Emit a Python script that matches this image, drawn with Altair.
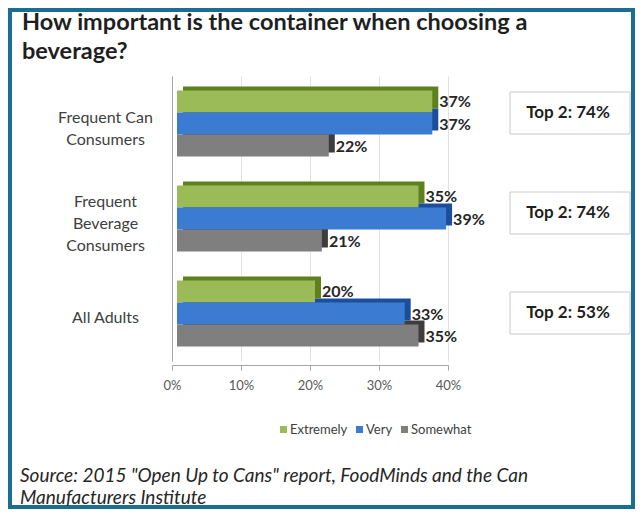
import altair as alt
import pandas as pd

# ---------------- data ----------------
categories = ["Frequent Can Consumers", "Frequent Beverage Consumers", "All Adults"]
category_lines = [["Frequent Can", "Consumers"], ["Frequent", "Beverage", "Consumers"], ["All Adults"]]
series = ["Extremely", "Very", "Somewhat"]
extremely = [37, 35, 20]
very = [37, 39, 33]
somewhat = [22, 21, 35]
top2_labels = ["Top 2: 74%", "Top 2: 74%", "Top 2: 53%"]
x_ticks = [0, 10, 20, 30, 40]
title_lines = ["How important is the container when choosing a", "beverage?"]
source_lines = ['Source: 2015 "Open Up to Cans" report, FoodMinds and the Can',
                "Manufacturers Institute"]

front_colors = ["#9bbb59", "#3c7bd2", "#7f7f7f"]
side_colors = ["#5f801e", "#1c4e9c", "#3d3d3d"]
FONT = "Lato"

rows = []
for i, c in enumerate(categories):
    for s, vals in zip(series, [extremely, very, somewhat]):
        rows.append({"category": c, "series": s, "value": vals[i], "label": f"{vals[i]}%"})
df = pd.DataFrame(rows)
top_df = pd.DataFrame({"category": categories, "top2": top2_labels})
one = pd.DataFrame({"k": [0]})

# label expression for multi-line category labels
def js_list(lst):
    return "[" + ",".join("'" + s + "'" for s in lst) + "]"

expr = js_list(category_lines[-1])
for c, lines in reversed(list(zip(categories[:-1], category_lines[:-1]))):
    expr = f"datum.value == '{c}' ? {js_list(lines)} : ({expr})"

# shift multi-line labels up so that each block is centred on its group
LINE_H = 22
label_offset = {
    "condition": [
        {"test": f"datum.value == '{c}'", "value": 5 - (len(lines) - 1) * LINE_H / 2}
        for c, lines in zip(categories, category_lines) if len(lines) > 1
    ],
    "value": 4,
}

y_enc = alt.Y(
    "category:N", sort=categories,
    scale=alt.Scale(domain=categories, paddingInner=0.305, paddingOuter=0.1525),
    axis=alt.Axis(title=None, ticks=False, domainColor="#a6a6a6", labelExpr=expr,
                  labelAlign="center", labelPadding=67, labelOffset=label_offset,
                  labelFont=FONT, labelFontSize=16, labelColor="#404040",
                  labelLineHeight=LINE_H, labelBaseline="middle"),
)
x_enc = alt.X(
    "value:Q", scale=alt.Scale(domain=[0, 40]),
    axis=alt.Axis(title=None, values=x_ticks, labelExpr="datum.value + '%'", grid=True,
                  gridColor="#e2e2e2", domainColor="#a6a6a6", tickColor="#a6a6a6",
                  tickSize=5, labelFont=FONT, labelFontSize=13, labelColor="#595959",
                  labelPadding=9, labelFlush=False, offset=4),
)

shadow = alt.Chart(df).mark_bar(xOffset=11, x2Offset=11).encode(
    x=x_enc, y=y_enc,
    yOffset=alt.YOffset("series:N", sort=series,
                        scale=alt.Scale(domain=series, range=[-4, 62])),
    color=alt.Color("series:N", scale=alt.Scale(domain=series, range=side_colors), legend=None),
)

front = alt.Chart(df).mark_bar(xOffset=5, x2Offset=5).encode(
    x=x_enc, y=y_enc,
    yOffset=alt.YOffset("series:N", sort=series, scale=alt.Scale(domain=series)),
    color=alt.Color("series:N", scale=alt.Scale(domain=series, range=front_colors),
                    legend=alt.Legend(title=None, orient="none", legendX=105, legendY=347,
                                      direction="horizontal", symbolType="square",
                                      symbolSize=49, symbolStrokeWidth=0, labelFont=FONT,
                                      labelFontSize=13, labelColor="#404040",
                                      columnPadding=5, labelOffset=0, padding=0,
                                      gridAlign="none")),
)

labels = alt.Chart(df).mark_text(align="left", baseline="middle", dx=12, dy=1, font=FONT,
                                 fontSize=16, fontWeight="bold", color="#262626").encode(
    x=x_enc, y=y_enc,
    yOffset=alt.YOffset("series:N", sort=series, scale=alt.Scale(domain=series)),
    text="label:N",
)

main = alt.layer(shadow, front, labels).resolve_scale(yOffset="independent", color="independent")

box_y = alt.Y("category:N", sort=categories,
              scale=alt.Scale(domain=categories, range=[-13, 287], paddingInner=0, paddingOuter=0),
              axis=None)
box = alt.Chart(top_df).mark_bar(height=42, fill="white", stroke="#c9c9c9", strokeWidth=1).encode(
    x=alt.value(338), x2=alt.value(458), y=box_y)
box_text = alt.Chart(top_df).mark_text(font=FONT, fontSize=17, fontWeight="bold",
                                       color="#1f1f1f", baseline="middle").encode(
    x=alt.value(396), y=box_y, text="top2:N")
boxes = alt.layer(box, box_text)

# teal frame border around the whole picture
frame = alt.Chart(one).mark_rect(fill=None, stroke="#1a6e92", strokeWidth=4).encode(
    x=alt.value(-162), x2=alt.value(461), y=alt.value(-66), y2=alt.value(431))

title = alt.Chart(one).mark_text(text=title_lines, align="left", baseline="alphabetic", font=FONT,
                                 fontSize=23.5, fontWeight="bold", lineHeight=29,
                                 color="#1f1f1f").encode(x=alt.value(-150), y=alt.value(-46))

source = alt.Chart(one).mark_text(text=source_lines, align="left", baseline="alphabetic", font=FONT,
                                  fontSize=19, fontStyle="italic", lineHeight=22,
                                  color="#262626").encode(x=alt.value(-152), y=alt.value(406))

chart = alt.layer(frame, main, boxes, title, source).resolve_scale(y="independent").properties(
    width=276, height=285,
    autosize=alt.AutoSizeParams(type="none"),
    padding={"left": 164, "top": 68, "right": 187, "bottom": 149},
    background="white",
).configure_view(stroke=None)

chart.save("out.html", embed_options={"renderer": "svg", "actions": False})
